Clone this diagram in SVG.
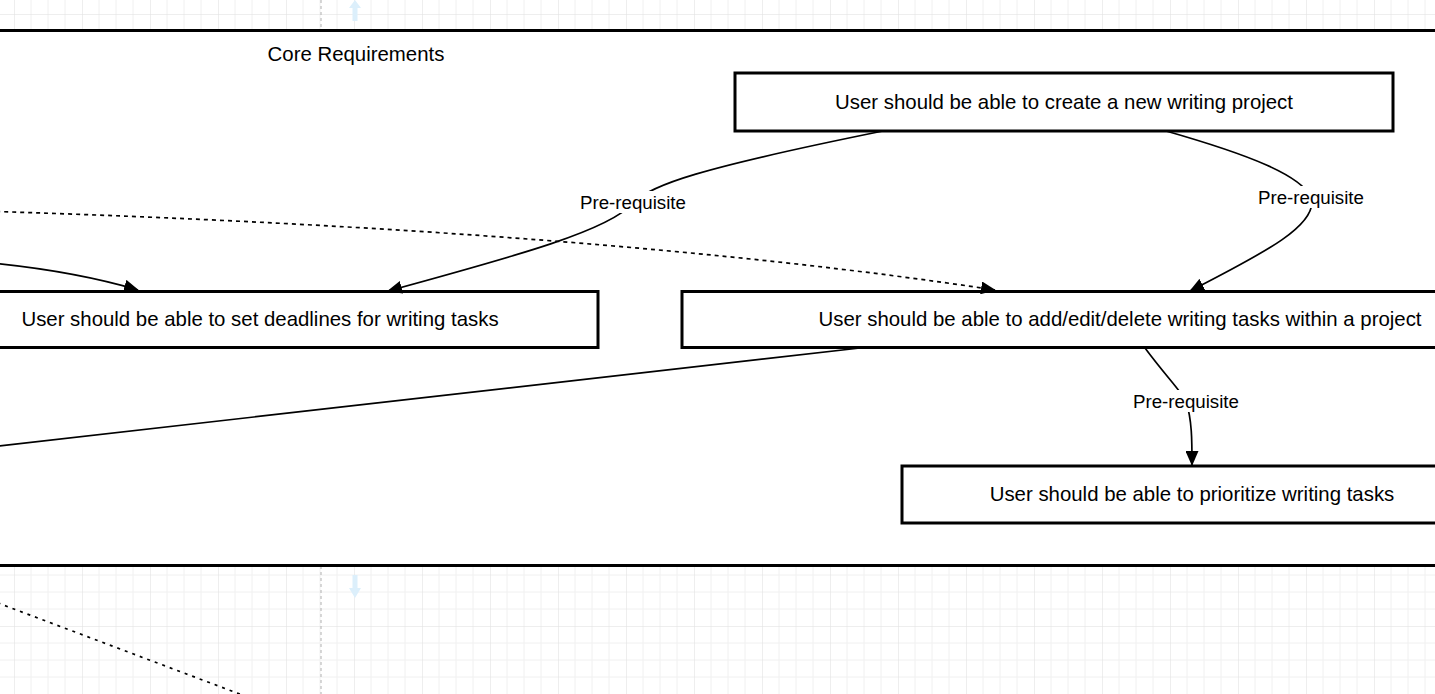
<svg xmlns="http://www.w3.org/2000/svg" width="1435" height="694" viewBox="0 0 1435 694">
<defs>
<pattern id="grid" x="14" y="14" width="68" height="68" patternUnits="userSpaceOnUse">
<path d="M17 0V68M34 0V68M51 0V68M0 17H68M0 34H68M0 51H68" stroke="#f0f0f0" stroke-width="1" fill="none"/>
<path d="M0 0V68M0 0H68" stroke="#dedede" stroke-width="1" fill="none"/>
</pattern>
<marker id="arr" viewBox="0 0 15 13" refX="14" refY="6.5" markerWidth="15" markerHeight="13" markerUnits="userSpaceOnUse" orient="auto">
<path d="M0 0L15 6.5L0 13Z" fill="#000"/>
</marker>
<style>
.node rect{fill:#fff;stroke:#000;stroke-width:3}
.ntext{font-family:"Liberation Sans",Arial,sans-serif;font-size:20.4px;fill:#000;dominant-baseline:central}
.edge{fill:none;stroke:#000;stroke-width:1.7}
.lbl{font-family:"Liberation Sans",Arial,sans-serif;font-size:18.7px;fill:#000;text-anchor:middle;dominant-baseline:central}
.lblbg{fill:#fff}
</style>
</defs>
<rect x="0" y="0" width="1435" height="694" fill="#fff"/>
<rect x="0" y="0" width="1435" height="694" fill="url(#grid)"/>
<path d="M321 0V30M321 566V694" stroke="#b0b0b0" stroke-width="1" stroke-dasharray="3 3"/>
<g id="hover-arrows" fill="#dcefFb">
<path d="M355 0L361 8H357.5V21H352.5V8H349Z"/>
<path d="M355 598L361 588H357.5V575H352.5V588H349Z"/>
</g>
<g id="container" class="node">
<rect x="-100" y="30.5" width="1700" height="535"/>
<text class="ntext" x="356" y="54" text-anchor="middle">Core Requirements</text>
</g>
<g id="node-create" class="node">
<rect x="735" y="73" width="658" height="58"/>
<text class="ntext" x="1064" y="102" text-anchor="middle">User should be able to create a new writing project</text>
</g>
<g id="node-deadlines" class="node">
<rect x="-78" y="291.5" width="676" height="56"/>
<text class="ntext" x="260" y="319" text-anchor="middle">User should be able to set deadlines for writing tasks</text>
</g>
<g id="node-tasks" class="node">
<rect x="682" y="291.5" width="876" height="56"/>
<text class="ntext" x="1120" y="319" text-anchor="middle">User should be able to add/edit/delete writing tasks within a project</text>
</g>
<g id="node-prioritize" class="node">
<rect x="902" y="466" width="580" height="57"/>
<text class="ntext" x="1192" y="494" text-anchor="middle">User should be able to prioritize writing tasks</text>
</g>
<g id="connectors">
<path class="edge" d="M883 131C700 168 650 185 633 203C610 230 520 255 388 291" marker-end="url(#arr)"/>
<path class="edge" d="M1166 131C1250 155 1300 175 1311 197C1320 225 1260 255 1190 291" marker-end="url(#arr)"/>
<path class="edge" d="M1145 348C1165 375 1180 390 1186 401C1192 420 1192 440 1192 465" marker-end="url(#arr)"/>
<path class="edge" d="M-20 211Q600 230 995 290" stroke-dasharray="4 4" marker-end="url(#arr)"/>
<path class="edge" d="M-20 262Q70 270 138 290" marker-end="url(#arr)"/>
<path class="edge" d="M860 348L-10 447"/>
<path class="edge" d="M-10 600L245 696" stroke-dasharray="3 5"/>
<rect class="lblbg" x="579" y="191" width="108" height="22"/>
<text class="lbl" x="633" y="202">Pre-requisite</text>
<rect class="lblbg" x="1257" y="186" width="108" height="22"/>
<text class="lbl" x="1311" y="197">Pre-requisite</text>
<rect class="lblbg" x="1132" y="390" width="108" height="22"/>
<text class="lbl" x="1186" y="401">Pre-requisite</text>
</g>
</svg>
